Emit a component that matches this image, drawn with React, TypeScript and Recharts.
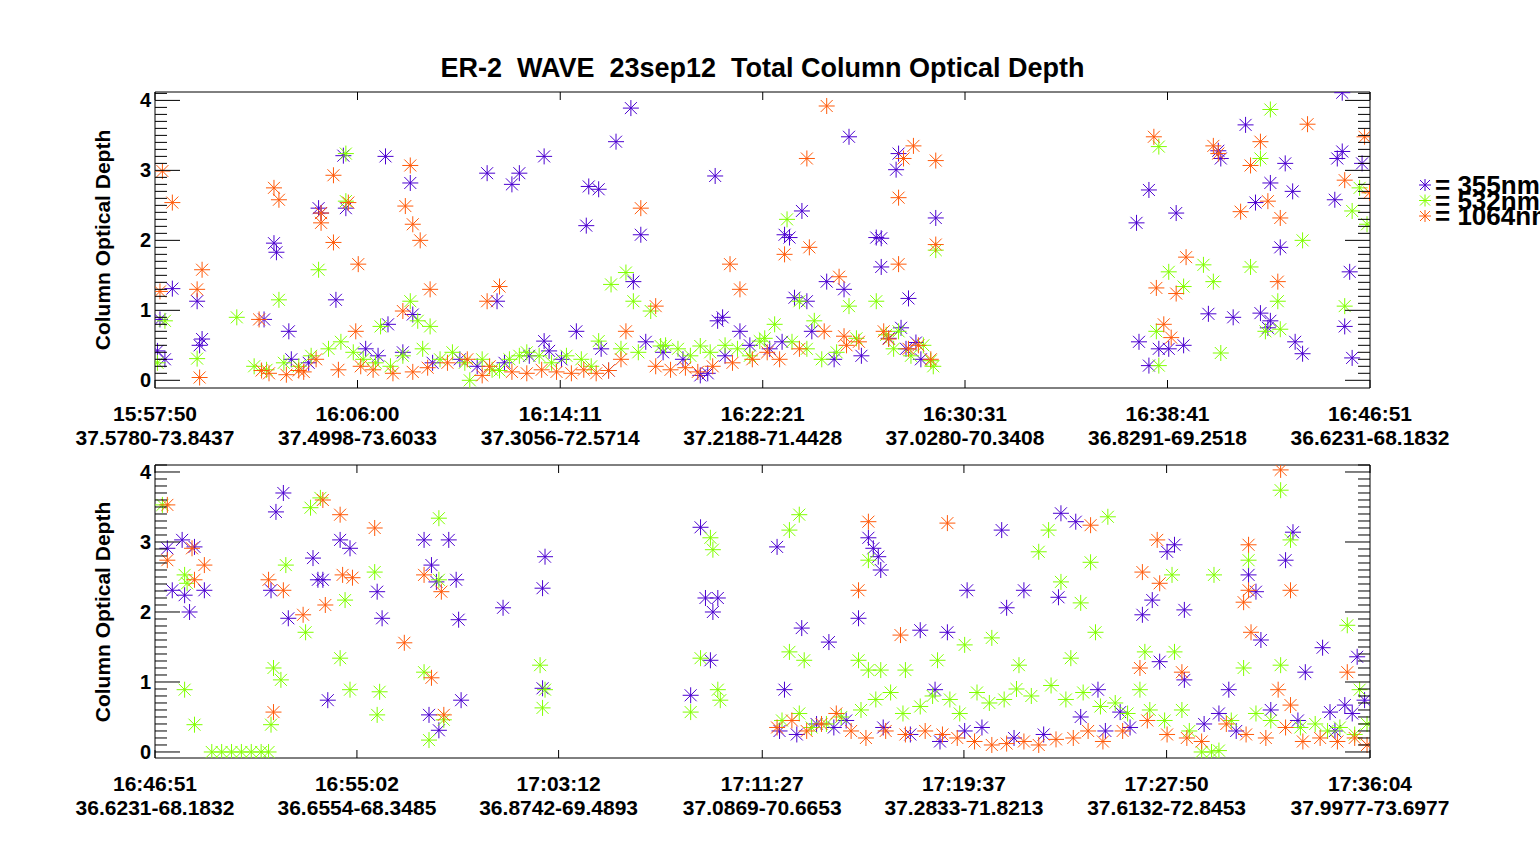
import { ScatterChart, Scatter, XAxis, YAxis } from 'recharts';

// minutes since panel start, column optical depth
const top355 = [[0.1,0.42],[0.2,0.87],[0.7,1.31],[1.7,1.13],[1.9,0.59],[4.8,1.96],[4.9,1.83],[4.4,0.87],[5.4,0.7],[6.6,2.46],[6.7,2.39],[7.3,1.15],[7.6,3.21],[7.7,2.46],[9.3,3.2],[9.4,0.8],[10.3,2.82],[10.4,0.94],[13.4,2.96],[13.8,1.13],[14.4,2.8],[14.7,2.96],[15.7,3.2],[15.7,0.56],[17.0,0.7],[17.5,2.77],[17.4,2.21],[17.9,2.73],[18.6,3.41],[19.2,3.89],[19.6,2.08],[19.3,1.41],[18.3,0.14],[22.0,0.07],[22.6,2.92],[22.7,0.85],[22.9,0.9],[23.6,0.7],[25.4,2.08],[25.6,2.04],[26.1,2.42],[25.8,1.18],[26.3,1.13],[27.1,1.41],[28.0,3.48],[27.8,1.3],[29.1,2.04],[29.3,2.03],[29.3,1.62],[29.9,3.01],[30.0,3.24],[30.4,1.17],[30.3,0.45],[31.5,2.32],[30.7,0.54],[39.6,2.25],[40.1,2.72],[41.2,2.39],[40.1,0.21],[40.9,0.45],[42.9,3.28],[43.0,3.17],[44.0,3.65],[44.4,2.54],[45.0,2.82],[45.6,3.1],[45.9,2.7],[45.4,1.9],[44.6,0.96],[45.0,0.85],[46.3,0.38],[47.7,3.17],[47.9,3.27],[48.0,0.77],[48.2,1.55],[48.3,0.32],[48.7,3.1],[47.9,4.11],[47.6,2.58],
  [5.5,0.3],[6.2,0.25],[8.5,0.45],[9.0,0.35],[10.0,0.4],[11.2,0.25],[12.3,0.3],[13.0,0.2],[14.1,0.25],[15.1,0.35],[15.9,0.42],[16.4,0.3],[18.0,0.45],[19.8,0.55],[20.5,0.4],[21.3,0.3],[22.3,0.1],[23.0,0.35],[24.0,0.5],[24.8,0.45],[25.3,0.55],[26.5,0.7],[27.4,0.3],[28.5,0.35],[29.6,0.6],[30.1,0.75],[30.9,0.3],[39.7,0.55],[41.5,0.5],[42.5,0.95],[43.5,0.9],[44.9,0.75],[46.0,0.55],[40.5,0.45],[0.4,0.3],[1.8,0.5]];
const top532 = [[0.1,0.25],[0.4,0.85],[1.7,0.31],[3.3,0.9],[5.0,1.15],[6.6,1.58],[7.7,3.24],[7.7,2.56],[9.1,0.77],[10.3,1.13],[10.6,0.85],[11.1,0.77],[12.7,0.0],[13.9,0.14],[14.7,0.35],[17.9,0.56],[18.4,1.37],[19.0,1.54],[19.3,1.13],[20.0,0.99],[20.4,0.49],[22.0,0.49],[24.4,0.56],[25.5,2.3],[26.0,1.13],[26.6,0.85],[28.0,1.06],[29.1,1.13],[30.0,0.7],[31.3,0.28],[31.5,1.86],[40.5,3.34],[40.4,0.7],[40.5,0.21],[40.9,1.55],[41.5,1.34],[42.3,1.65],[42.7,1.41],[43.0,0.39],[44.2,1.62],[44.6,3.17],[45.0,3.87],[45.3,1.13],[45.4,0.73],[44.8,0.7],[46.3,2.0],[48.0,1.06],[48.3,2.42],[48.6,2.75],[48.9,2.23],
  [4.0,0.2],[4.5,0.15],[5.2,0.25],[5.8,0.2],[6.3,0.35],[7.0,0.45],[7.5,0.55],[8.0,0.4],[8.4,0.3],[8.9,0.25],[9.5,0.2],[10.0,0.35],[10.8,0.45],[11.5,0.3],[12.0,0.4],[12.5,0.25],[13.2,0.3],[13.6,0.15],[14.3,0.3],[15.0,0.4],[15.5,0.35],[16.0,0.25],[16.6,0.35],[17.2,0.3],[17.6,0.2],[18.8,0.45],[19.5,0.4],[20.6,0.5],[21.1,0.45],[21.6,0.35],[22.4,0.4],[23.0,0.5],[23.5,0.45],[24.0,0.35],[24.6,0.6],[25.0,0.8],[25.7,0.55],[26.3,0.45],[26.9,0.3],[27.5,0.4],[28.3,0.6],[29.5,0.65],[29.8,0.45],[30.5,0.35],[31.0,0.5],[31.4,0.2]];
const top1064 = [[0.2,1.27],[0.3,2.99],[0.7,2.54],[1.7,1.3],[1.8,0.04],[1.9,1.58],[4.2,0.87],[4.8,2.75],[5.0,2.58],[4.3,0.14],[5.8,0.14],[6.7,2.25],[6.7,2.39],[7.2,1.97],[7.2,2.93],[7.8,2.54],[8.2,1.66],[8.1,0.7],[10.1,2.49],[10.3,3.07],[10.4,2.23],[10.7,2.0],[11.1,1.3],[10.0,0.99],[13.4,1.13],[13.9,1.34],[13.2,0.07],[18.3,0.14],[19.6,2.46],[19.0,0.7],[20.2,1.06],[23.2,1.66],[23.6,1.3],[25.4,1.8],[26.3,3.17],[26.4,1.9],[27.1,3.92],[27.6,1.48],[27.8,0.63],[29.6,0.59],[30.0,2.61],[30.2,3.17],[30.6,3.35],[30.0,1.66],[31.5,3.14],[31.5,1.94],[40.3,3.48],[40.4,1.32],[40.7,0.8],[41.0,0.61],[41.2,1.24],[41.6,1.76],[42.7,3.35],[42.9,3.24],[43.8,2.41],[44.2,3.07],[44.6,3.41],[44.9,2.56],[45.3,1.41],[45.4,2.32],[46.5,3.66],[48.0,2.86],[48.8,3.48],[49.0,2.68],
  [4.6,0.1],[5.3,0.08],[6.0,0.12],[6.5,0.3],[7.4,0.15],[8.3,0.2],[8.8,0.15],[9.6,0.1],[10.4,0.12],[11.0,0.18],[11.8,0.25],[12.6,0.3],[13.5,0.2],[14.4,0.12],[15.0,0.1],[15.6,0.15],[16.2,0.12],[16.8,0.1],[17.3,0.15],[17.8,0.1],[18.8,0.3],[20.2,0.2],[20.8,0.15],[21.4,0.18],[21.9,0.12],[22.5,0.2],[23.3,0.25],[24.1,0.3],[24.7,0.4],[25.2,0.3],[26.0,0.45],[27.0,0.7],[27.9,0.5],[28.4,0.55],[29.4,0.7],[30.4,0.45],[30.8,0.5],[31.3,0.3]];

const bot355 = [[0.5,2.91],[0.7,2.31],[1.1,3.03],[1.2,2.24],[1.4,2.0],[1.6,2.93],[2.0,2.31],[4.7,2.31],[4.9,3.43],[5.2,3.7],[5.4,1.91],[6.4,2.77],[6.6,2.46],[6.8,2.46],[7.0,0.74],[7.5,3.03],[7.9,2.91],[9.0,2.29],[9.2,1.91],[10.9,3.03],[11.2,2.67],[11.4,2.43],[11.9,3.03],[12.2,2.46],[12.3,1.89],[12.4,0.74],[11.1,0.53],[11.5,0.31],[14.1,2.06],[15.7,2.34],[15.8,2.79],[15.7,0.91],[21.7,0.81],[22.1,3.21],[22.3,2.2],[22.6,2.0],[22.8,2.2],[22.5,1.31],[25.2,2.93],[25.5,0.89],[26.2,1.77],[27.3,1.57],[28.5,1.91],[28.9,3.06],[29.1,2.91],[29.4,2.6],[29.3,2.79],[31.0,1.74],[32.1,1.71],[31.6,0.89],[32.9,2.31],[34.3,3.17],[34.5,2.06],[35.2,2.31],[36.7,3.41],[36.6,2.21],[37.3,3.29],[38.2,0.89],[39.1,0.57],[40.0,1.96],[40.4,2.17],[40.7,1.29],[41.0,2.86],[41.3,2.96],[41.7,2.03],[41.7,1.03],[43.5,0.89],[44.3,2.53],[44.6,2.29],[44.8,1.6],[45.8,2.74],[46.1,3.14],[46.6,1.14],[47.3,1.49],[47.6,0.57],[48.2,0.67],[48.7,1.36],[49.0,0.74],
  [25.3,0.3],[26.0,0.25],[26.8,0.4],[27.5,0.35],[28.0,0.45],[29.5,0.35],[30.6,0.25],[31.8,0.15],[32.8,0.3],[33.5,0.35],[34.8,0.2],[36.0,0.25],[37.5,0.5],[38.5,0.3],[39.5,0.35],[42.5,0.4],[43.1,0.55],[43.8,0.3],[45.2,0.6],[46.3,0.45],[47.8,0.3],[48.5,0.55]];
const bot532 = [[0.3,3.53],[1.2,2.53],[1.3,2.41],[1.2,0.89],[1.6,0.39],[2.3,0],[2.7,0],[3.1,0],[3.5,0],[3.9,0],[4.3,0],[4.6,0],[4.8,1.2],[5.1,1.03],[4.7,0.39],[5.3,2.67],[6.1,1.71],[6.3,3.49],[6.7,3.63],[7.7,2.17],[7.5,1.34],[7.9,0.89],[8.9,2.57],[9.0,0.53],[9.1,0.86],[10.9,1.14],[11.5,3.34],[11.5,2.46],[11.1,0.17],[11.7,0.46],[15.6,1.24],[15.7,0.63],[15.8,0.89],[21.7,0.57],[22.1,1.34],[22.5,3.06],[22.6,2.89],[22.8,0.89],[22.9,0.74],[25.7,3.17],[26.1,3.39],[25.7,1.43],[26.3,1.31],[28.5,1.31],[28.9,1.17],[28.9,2.74],[29.4,1.17],[30.4,1.17],[31.7,1.31],[32.8,1.53],[33.9,1.63],[35.0,1.24],[35.8,2.86],[36.2,3.17],[36.7,2.43],[37.1,1.34],[37.5,2.13],[37.9,2.71],[38.1,1.71],[38.6,3.36],[39.9,0.89],[40.1,1.43],[41.2,2.53],[41.3,1.43],[41.6,0.6],[42.9,2.53],[44.1,1.2],[44.3,2.74],[45.6,1.24],[45.6,3.74],[46.0,3.03],[48.3,1.81],[48.8,0.89],[42.4,0],[42.8,0],[43.1,0.02],
  [25.4,0.45],[26.1,0.55],[26.6,0.35],[27.2,0.4],[27.8,0.5],[28.6,0.6],[29.2,0.75],[29.8,0.85],[30.3,0.55],[31.0,0.65],[31.5,0.8],[32.2,0.75],[32.6,0.55],[33.3,0.85],[33.8,0.7],[34.4,0.75],[34.9,0.9],[35.5,0.8],[36.3,0.95],[36.9,0.75],[37.6,0.85],[38.3,0.65],[38.9,0.7],[39.4,0.55],[40.3,0.6],[40.9,0.45],[41.9,0.3],[43.6,0.45],[44.6,0.55],[45.2,0.45],[46.4,0.35],[47.0,0.4],[47.5,0.3],[48.0,0.35],[48.6,0.25],[49.1,0.4]];
const bot1064 = [[0.5,3.53],[0.5,2.74],[1.6,2.46],[1.5,2.91],[2.0,2.67],[4.6,2.46],[4.8,0.57],[5.2,2.31],[6.0,1.96],[6.8,3.6],[6.9,2.1],[7.5,3.39],[7.6,2.53],[8.0,2.49],[8.9,3.2],[10.1,1.56],[10.9,2.53],[11.2,1.06],[11.6,2.29],[11.7,0.53],[28.5,2.31],[28.9,3.29],[30.2,1.67],[32.1,3.27],[37.9,3.24],[39.9,1.2],[40.0,2.57],[40.6,3.03],[40.7,2.41],[41.6,1.14],[44.3,2.96],[44.1,2.14],[44.3,2.31],[44.4,1.71],[45.6,4.03],[46.0,2.31],[45.5,0.89],[46.0,0.67],[48.3,1.14],
  [25.2,0.35],[25.8,0.45],[26.4,0.3],[27.0,0.4],[27.6,0.55],[28.2,0.3],[28.8,0.2],[29.6,0.3],[30.4,0.25],[31.2,0.3],[31.9,0.25],[32.5,0.2],[33.2,0.15],[33.9,0.1],[34.5,0.12],[35.2,0.15],[35.8,0.1],[36.5,0.18],[37.2,0.2],[37.8,0.3],[38.4,0.15],[39.2,0.3],[40.2,0.45],[41.0,0.25],[41.8,0.2],[42.4,0.15],[43.4,0.4],[44.2,0.25],[45.0,0.2],[45.8,0.35],[46.5,0.15],[47.2,0.2],[47.9,0.15],[48.6,0.2],[49.1,0.1]];

const topTicks = [0, 8.17, 16.35, 24.52, 32.68, 40.85, 49.02];
const topTimes = ['15:57:50', '16:06:00', '16:14:11', '16:22:21', '16:30:31', '16:38:41', '16:46:51'];
const topPos = ['37.5780-73.8437', '37.4998-73.6033', '37.3056-72.5714', '37.2188-71.4428', '37.0280-70.3408', '36.8291-69.2518', '36.6231-68.1832'];
const botTicks = [0, 8.18, 16.35, 24.6, 32.77, 40.98, 49.22];
const botTimes = ['16:46:51', '16:55:02', '17:03:12', '17:11:27', '17:19:37', '17:27:50', '17:36:04'];
const botPos = ['36.6231-68.1832', '36.6554-68.3485', '36.8742-69.4893', '37.0869-70.6653', '37.2833-71.8213', '37.6132-72.8453', '37.9977-73.6977'];

const C355 = '#4b00d0';
const C532 = '#80ff00';
const C1064 = '#ff5a0a';
const FONT = '"Liberation Sans", Arial, sans-serif';
const yTicks = Array.from({ length: 42 }, (_, i) => i / 10);

const toPts = (a: number[][]) => a.map(([x, y]) => ({ x, y }));

const StarMark = ({ cx, cy, color, r = 8, d = 6 }: any) => (
  <g stroke={color} strokeWidth={1}>
    <line x1={cx - r} y1={cy} x2={cx + r} y2={cy} />
    <line x1={cx} y1={cy - r} x2={cx} y2={cy + r} />
    <line x1={cx - d} y1={cy - d} x2={cx + d} y2={cy + d} />
    <line x1={cx - d} y1={cy + d} x2={cx + d} y2={cy - d} />
  </g>
);
const Star = (color: string) => (p: any) => <StarMark cx={p.cx} cy={p.cy} color={color} />;

const isMajor = (v: number) => Math.abs(v - Math.round(v)) < 0.001;

const YTickL = (p: any) => {
  const v = p.payload.value;
  return (
    <g>
      <line x1={p.x} y1={p.y} x2={p.x + (isMajor(v) ? 25 : 12)} y2={p.y} stroke="#000" />
      {isMajor(v) && <text x={p.x - 4} y={p.y + 7} textAnchor="end" fontSize={20} fontWeight="bold" fontFamily={FONT}>{Math.round(v)}</text>}
    </g>
  );
};
const YTickR = (p: any) => <line x1={p.x} y1={p.y} x2={p.x - (isMajor(p.payload.value) ? 25 : 12)} y2={p.y} stroke="#000" />;
const XTickB = (times: string[], pos: string[]) => (p: any) => (
  <g>
    <line x1={p.x} y1={p.y} x2={p.x} y2={p.y - 8} stroke="#000" />
    <text x={p.x} y={p.y + 33} textAnchor="middle" fontSize={21} fontWeight="bold" fontFamily={FONT}>{times[p.index]}</text>
    <text x={p.x} y={p.y + 57} textAnchor="middle" fontSize={21} fontWeight="bold" fontFamily={FONT}>{pos[p.index]}</text>
  </g>
);
const XTickT = (p: any) => <line x1={p.x} y1={p.y} x2={p.x} y2={p.y + 8} stroke="#000" />;

function Panel({ s355, s532, s1064, ticks, times, pos, xmax, ymin, ymax, height, margin }: any) {
  const ax = { stroke: '#000' };
  return (
    <ScatterChart width={1540} height={height} margin={margin}>
      <XAxis type="number" dataKey="x" xAxisId="b" domain={[0, xmax]} allowDataOverflow ticks={ticks} interval={0} axisLine={ax} tickLine={false} tickSize={0} tickMargin={0} height={10} tick={XTickB(times, pos)} />
      <XAxis type="number" dataKey="x" xAxisId="t" orientation="top" domain={[0, xmax]} allowDataOverflow ticks={ticks} interval={0} axisLine={ax} tickLine={false} tickSize={0} tickMargin={0} height={10} tick={XTickT} />
      <YAxis type="number" dataKey="y" yAxisId="l" domain={[ymin, ymax]} allowDataOverflow ticks={yTicks} interval={0} axisLine={ax} tickLine={false} tickSize={0} tickMargin={0} width={10} tick={YTickL} />
      <YAxis type="number" dataKey="y" yAxisId="r" orientation="right" domain={[ymin, ymax]} allowDataOverflow ticks={yTicks} interval={0} axisLine={ax} tickLine={false} tickSize={0} tickMargin={0} width={10} tick={YTickR} />
      <Scatter data={toPts(s355)} xAxisId="b" yAxisId="l" shape={Star(C355)} isAnimationActive={false} />
      <Scatter data={toPts(s532)} xAxisId="b" yAxisId="l" shape={Star(C532)} isAnimationActive={false} />
      <Scatter data={toPts(s1064)} xAxisId="b" yAxisId="l" shape={Star(C1064)} isAnimationActive={false} />
    </ScatterChart>
  );
}

const yLabel = (top: number) => (
  <div style={{ position: 'absolute', left: 103, top, transform: 'translate(-50%,-50%) rotate(-90deg)', whiteSpace: 'nowrap', fontFamily: FONT, fontWeight: 'bold', fontSize: 21 }}>Column Optical Depth</div>
);

export default function App() {
  const legend = [['= 355nm', C355], ['= 532nm', C532], ['= 1064nm', C1064]];
  return (
    <div style={{ position: 'absolute', left: 0, top: 0, width: 1540, height: 845, overflow: 'hidden', background: '#fff' }}>
      <div style={{ position: 'absolute', left: 0, top: 53, width: 1525, textAlign: 'center', fontFamily: FONT, fontWeight: 'bold', fontSize: 27, whiteSpace: 'pre' }}>ER-2  WAVE  23sep12  Total Column Optical Depth</div>
      <div style={{ position: 'absolute', left: 0, top: 445 }}>
        <Panel s355={bot355} s532={bot532} s1064={bot1064} ticks={botTicks} times={botTimes} pos={botPos} xmax={49.22} ymin={-0.086} ymax={4.1} height={400} margin={{ top: 10, right: 160, bottom: 77, left: 145 }} />
      </div>
      <div style={{ position: 'absolute', left: 0, top: 0 }}>
        <Panel s355={top355} s532={top532} s1064={top1064} ticks={topTicks} times={topTimes} pos={topPos} xmax={49.02} ymin={-0.11} ymax={4.12} height={455} margin={{ top: 82, right: 160, bottom: 57, left: 145 }} />
      </div>
      {yLabel(240)}
      {yLabel(612)}
      <svg style={{ position: 'absolute', left: 1415, top: 175 }} width={125} height={55}>
        {legend.map(([t, c], i) => (
          <g key={t}>
            <StarMark cx={10} cy={10 + i * 15.5} color={c} r={6} d={5} />
            <text x={20} y={19 + i * 15.5} fontFamily={FONT} fontWeight="bold" fontSize={26}>{t}</text>
          </g>
        ))}
      </svg>
    </div>
  );
}
